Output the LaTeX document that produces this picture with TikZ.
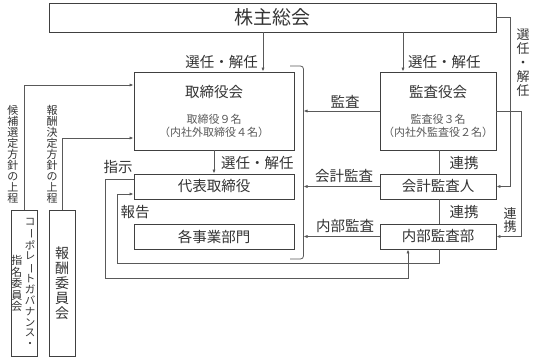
\documentclass[tikz,border=0pt]{standalone}
\usepackage{fontspec}
\setmainfont{Noto Sans CJK JP}
\usepackage{tikz}
\usetikzlibrary{arrows.meta,positioning}
\newcommand{\chouon}{\rotatebox[origin=c]{-90}{ー}}

\begin{document}
\begin{tikzpicture}[x=1pt,y=-1pt,>={Latex[length=4pt,width=3.2pt]},font=\fontsize{14.5}{16}\selectfont,every node/.style={text=black!80}]
\tikzstyle{box}=[rectangle,draw=black!75,line width=0.9pt,inner sep=0pt,align=center]
\tikzstyle{line}=[draw=black!65,line width=0.8pt]
\tikzstyle{small}=[font=\fontsize{11}{12.5}\selectfont,text=black!65,align=center]
\tikzstyle{tate}=[align=center,inner sep=0pt]
\useasboundingbox (0,0) rectangle (536,358);
\node[box,minimum width=447pt,minimum height=29pt,font=\fontsize{19}{20}\selectfont] (sh) at (272.5,17.5) {株主総会};
\node[box,minimum width=160pt,minimum height=78pt] (board) at (214,111) {};
\node (boardT) at (214,92) {取締役会};
\node[small] (boardN) at (214,126) {取締役９名\\（内社外取締役４名）};
\node[box,minimum width=116pt,minimum height=78pt] (kansa) at (438,111) {};
\node (kansaT) at (438,92) {監査役会};
\node[small] (kansaN) at (438,126) {監査役３名\\（内社外監査役２名）};
\node[box,minimum width=160pt,minimum height=25pt] (ceo) at (214,186.5) {代表取締役};
\node[box,minimum width=160pt,minimum height=25pt] (div) at (214,236.5) {各事業部門};
\node[box,minimum width=116pt,minimum height=25pt] (audit) at (438,186.5) {会計監査人};
\node[box,minimum width=116pt,minimum height=25pt] (internal) at (438,236.5) {内部監査部};
\node[box,minimum width=26pt,minimum height=146pt] (nom) at (24,283) {};
\node[tate,font=\fontsize{10.5}{10.8}\selectfont] (nomA) at (30,283) {コ\\\chouon\\ポ\\レ\\\chouon\\ト\\ガ\\バ\\ナ\\ン\\ス\\・};
\node[tate,font=\fontsize{11}{11.4}\selectfont] (nomB) at (17,283.5) {指\\名\\委\\員\\会};
\node[box,minimum width=26pt,minimum height=146pt,font=\fontsize{14}{15}\selectfont] (rem) at (62,283) {報\\酬\\委\\員\\会};
% bracket round the executive side
\coordinate (br) at (303.5,0);
\draw[line,rounded corners=3pt] (290,66) -| (303.5,259) -- (290,259);
\draw[line,->] ([xshift=49pt]board.north |- sh.south) -- ([xshift=49pt]board.north);
\draw[line,->] ([xshift=-35pt]kansa.north |- sh.south) -- ([xshift=-35pt]kansa.north);
\draw[line,->] (board.south) -- (ceo.north);
\draw[line,->] (kansa.west) -- (kansa.west -| br);
\draw[line,->] (audit.west) -- (audit.west -| br);
\draw[line,->] (internal.west) -- (internal.west -| br);
\draw[line] ([xshift=1pt]kansa.south) -- ([xshift=1pt]audit.north);
\draw[line] ([xshift=1pt]audit.south) -- ([xshift=1pt]internal.north);
\draw[line,->] (sh.east) -- ++(14,0) |- (audit.east);
\draw[line,->] (kansa.east) -- ++(25,0) |- (internal.east);
\draw[line,->] ([yshift=7.5pt]ceo.west) -| (105,278) -| ([xshift=-30pt]internal.south);
\draw[line,->] ([xshift=1pt]internal.south) |- (117,263) |- ([yshift=-7.5pt]ceo.west);
\draw[line,->] (nom.north) |- ([yshift=26pt]board.west);
\draw[line,->] (rem.north) |- ([yshift=-27pt]board.west);
% labels
\node[anchor=east,inner sep=0pt] (selA) at (258,62) {選任・解任};
\node[anchor=west,inner sep=0pt] (selB) at (408,62) {選任・解任};
\node[anchor=west,inner sep=0pt] (selC) at (221,163) {選任・解任};
\node (lkansa) at (345,102) {監査};
\node (laudit) at (344,176) {会計監査};
\node (lint) at (345,226) {内部監査};
\node (renA) at (464,163) {連携};
\node (renB) at (464,212) {連携};
\node (shiji) at (118,167) {指示};
\node (hokoku) at (135,212) {報告};
\node[tate,font=\fontsize{13}{14}\selectfont] (selD) at (523,63) {選\\任\\・\\解\\任};
\node[tate,font=\fontsize{13}{13.5}\selectfont] (renC) at (510,220) {連\\携};
\node[tate,font=\fontsize{11}{11}\selectfont] (kouho) at (13,154) {候\\補\\選\\定\\方\\針\\の\\上\\程};
\node[tate,font=\fontsize{11}{11}\selectfont] (houshu) at (52,154) {報\\酬\\決\\定\\方\\針\\の\\上\\程};
\end{tikzpicture}
\end{document}
